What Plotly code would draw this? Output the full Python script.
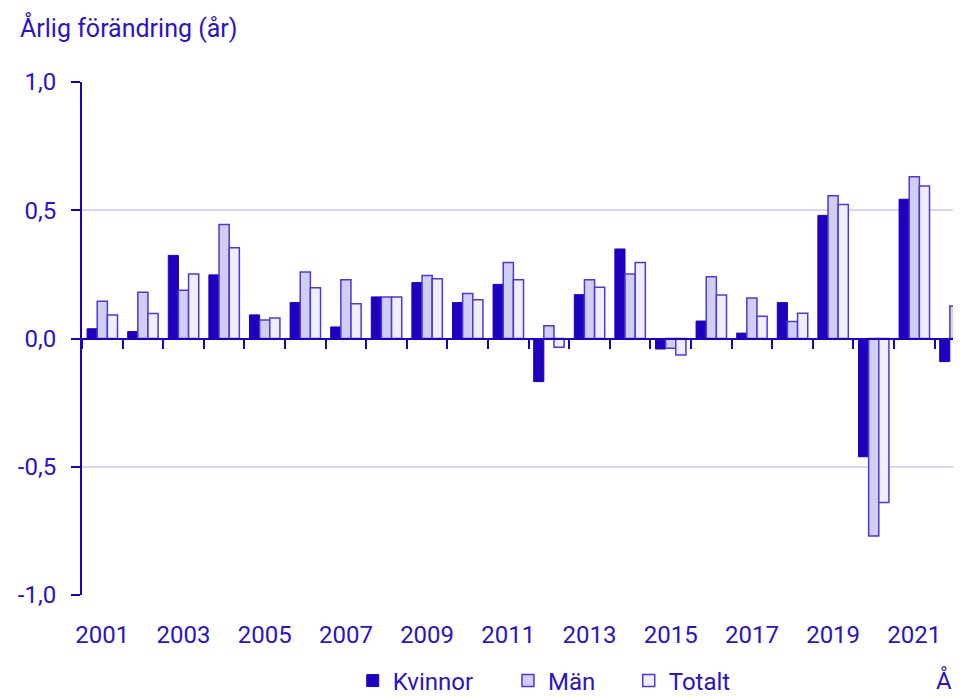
import plotly.graph_objects as go

years = list(range(2001, 2023))
kvinnor = [0.038, 0.027, 0.324, 0.248, 0.092, 0.140, 0.045, 0.162, 0.218, 0.140, 0.211,
           -0.168, 0.171, 0.349, -0.041, 0.068, 0.021, 0.140, 0.480, -0.461, 0.543, -0.090]
man = [0.145, 0.180, 0.188, 0.444, 0.072, 0.259, 0.229, 0.162, 0.246, 0.175, 0.296,
       0.050, 0.229, 0.251, -0.038, 0.241, 0.158, 0.066, 0.557, -0.770, 0.631, 0.127]
totalt = [0.092, 0.097, 0.251, 0.354, 0.080, 0.198, 0.135, 0.162, 0.233, 0.151, 0.229,
          -0.034, 0.200, 0.296, -0.064, 0.170, 0.087, 0.098, 0.522, -0.639, 0.595, 0.020]
xtick_years = list(range(2001, 2022, 2))
ytick_vals = [-1.0, -0.5, 0.0, 0.5, 1.0]
ytick_text = ["-1,0", "-0,5", "0,0", "0,5", "1,0"]

DARK = "#1e00be"
TEXT = "#2a14c4"
EDGE = "#5038d6"
GRID = "#d6d6f2"
FONT = "Roboto, Arial, sans-serif"
FS = 24
LEG_Y = -0.1676

fig = go.Figure()
fig.add_trace(go.Bar(x=years, y=kvinnor, name="Kvinnor", legend="legend",
                     marker=dict(color=DARK, line=dict(color=DARK, width=1))))
fig.add_trace(go.Bar(x=years, y=man, name="Män", legend="legend2",
                     marker=dict(color="#cfcff2", line=dict(color=EDGE, width=1.5))))
fig.add_trace(go.Bar(x=years, y=totalt, name="Totalt", legend="legend3",
                     marker=dict(color="#eeeefd", line=dict(color=EDGE, width=1.5))))

leg_common = dict(orientation="h", xanchor="left", y=LEG_Y, yanchor="middle",
                  font=dict(family=FONT, size=FS, color=TEXT), bgcolor="rgba(0,0,0,0)")

fig.update_layout(
    width=953, height=690,
    margin=dict(l=74, r=0, t=74, b=103, autoexpand=False),
    paper_bgcolor="white", plot_bgcolor="white",
    font=dict(family=FONT, size=FS, color=TEXT),
    barmode="group", bargap=0.25, bargroupgap=0,
    title=dict(text="Årlig förändring (år)", x=12/953, xanchor="left",
               xref="container", y=1-20/690, yanchor="middle", yref="container",
               font=dict(family=FONT, size=25, color=TEXT)),
    legend=dict(x=0.308, **leg_common),
    legend2=dict(x=0.4846, **leg_common),
    legend3=dict(x=0.622, **leg_common),
    showlegend=True,
)
fig.update_xaxes(
    type="linear", range=[2000.5, 2022.15], automargin=False,
    anchor="free", position=0.5,
    showline=True, linecolor=DARK, linewidth=2,
    showgrid=False, zeroline=False,
    tickmode="array", tickvals=xtick_years, ticktext=[str(y) for y in xtick_years],
    ticks="", ticklabelstandoff=275,
    tickfont=dict(family=FONT, size=FS, color=TEXT),
    minor=dict(tick0=2000.5, dtick=1, ticks="outside", ticklen=9, tickwidth=2,
               tickcolor=DARK, showgrid=False),
)
fig.update_yaxes(
    range=[-1, 1], tickmode="array", tickvals=ytick_vals, ticktext=ytick_text,
    automargin=False,
    showline=True, linecolor=DARK, linewidth=2,
    ticks="outside", ticklen=9, tickwidth=2, tickcolor=DARK,
    showgrid=True, gridcolor=GRID, gridwidth=2, zeroline=False,
    ticklabelstandoff=10,
    tickfont=dict(family=FONT, size=FS, color=TEXT),
)
fig.add_annotation(text="År", xref="paper", yref="paper", x=0.969, y=LEG_Y,
                   xanchor="left", yanchor="middle", showarrow=False,
                   font=dict(family=FONT, size=FS, color=TEXT))

fig.write_html("out.html")
